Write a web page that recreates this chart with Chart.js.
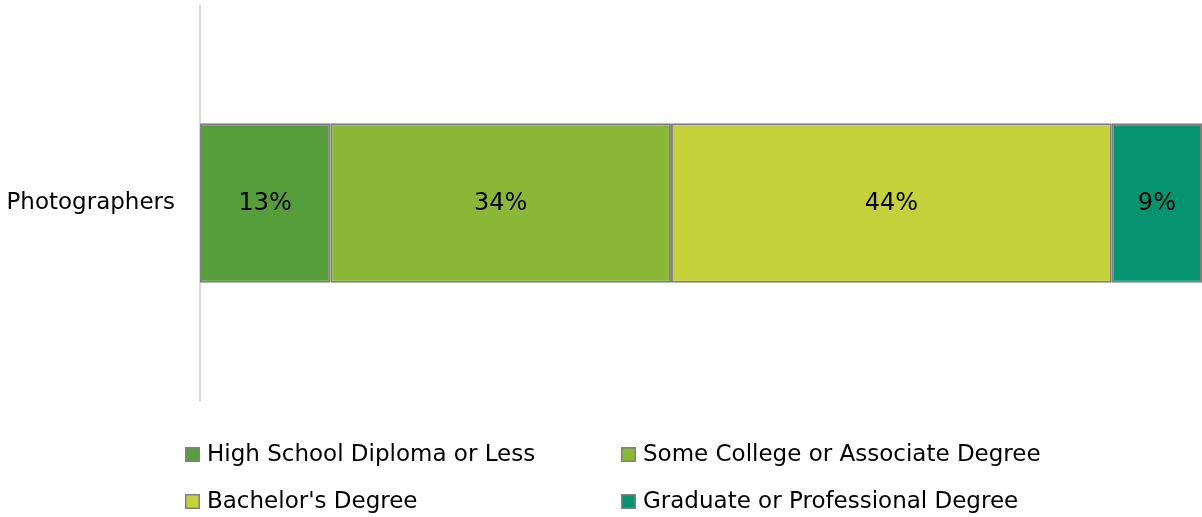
<!DOCTYPE html>
<html>
<head>
<meta charset="utf-8">
<script src="https://cdn.jsdelivr.net/npm/chart.js@4/dist/chart.umd.min.js"></script>
<style>
  html, body { margin: 0; padding: 0; background: #ffffff; }
  #wrap { width: 1202px; height: 517px; position: relative; }
</style>
</head>
<body>
<div id="wrap"><canvas id="c" width="1202" height="517"></canvas></div>
<script>
const categories = ["Photographers"];
const seriesNames = ["High School Diploma or Less", "Some College or Associate Degree", "Bachelor's Degree", "Graduate or Professional Degree"];
const highSchool = [13];
const someCollege = [34];
const bachelors = [44];
const graduate = [9];
const seriesColors = ["#559E3B", "#8BB737", "#C4D13A", "#05946F"];

const FONT = "'DejaVu Sans', sans-serif";
const seriesValues = [highSchool, someCollege, bachelors, graduate];

const dataLabels = {
  id: 'dataLabels',
  afterDatasetsDraw(chart) {
    const ctx = chart.ctx;
    ctx.save();
    ctx.font = "24px " + FONT;
    ctx.fillStyle = "#000";
    ctx.textAlign = "center";
    ctx.textBaseline = "middle";
    chart.data.datasets.forEach((ds, i) => {
      chart.getDatasetMeta(i).data.forEach((bar, j) => {
        const x = (bar.x + bar.base) / 2;
        ctx.fillText(ds.data[j] + "%", x, bar.y + 1);
      });
    });
    ctx.restore();
  }
};

const legendPlugin = {
  id: 'gridLegend',
  afterDraw(chart) {
    const ctx = chart.ctx;
    ctx.save();
    ctx.font = "23px " + FONT;
    ctx.textBaseline = "middle";
    ctx.textAlign = "left";
    const cols = [185, 621];
    const rows = [454, 501];
    chart.data.datasets.forEach((ds, i) => {
      const x = cols[i % 2];
      const y = rows[Math.floor(i / 2)];
      ctx.fillStyle = ds.backgroundColor;
      ctx.fillRect(x, y - 7, 15, 15);
      ctx.strokeStyle = "#808080";
      ctx.lineWidth = 1.5;
      ctx.strokeRect(x + 0.75, y - 6.25, 13.5, 13.5);
      ctx.fillStyle = "#000";
      ctx.fillText(ds.label, x + 22, y + 1);
    });
    ctx.restore();
  }
};

new Chart(document.getElementById('c'), {
  type: 'bar',
  data: {
    labels: categories,
    datasets: seriesNames.map((name, i) => ({
      label: name,
      data: seriesValues[i],
      backgroundColor: seriesColors[i],
      borderColor: "#7f7f7f",
      borderWidth: 2,
      borderSkipped: false,
      barPercentage: 0.405,
      categoryPercentage: 1.0
    }))
  },
  options: {
    indexAxis: 'y',
    responsive: false,
    animation: false,
    devicePixelRatio: 1,
    layout: { padding: { top: 0, bottom: 117, right: 0, left: 0 } },
    plugins: { legend: { display: false }, tooltip: { enabled: false } },
    scales: {
      x: { stacked: true, min: 0, max: 100, display: false },
      y: {
        stacked: true,
        afterFit(scale) { scale.width = 200; scale.paddingTop = 6; scale.paddingBottom = 0; },
        grid: { display: true, drawTicks: true, tickLength: 25, tickColor: 'rgba(0,0,0,0)', color: 'rgba(0,0,0,0)' },
        border: { display: true, color: '#d9d9d9', width: 2 },
        ticks: { color: '#000', padding: 0, font: { size: 23, family: FONT } }
      }
    }
  },
  plugins: [dataLabels, legendPlugin]
});
</script>
</body>
</html>
